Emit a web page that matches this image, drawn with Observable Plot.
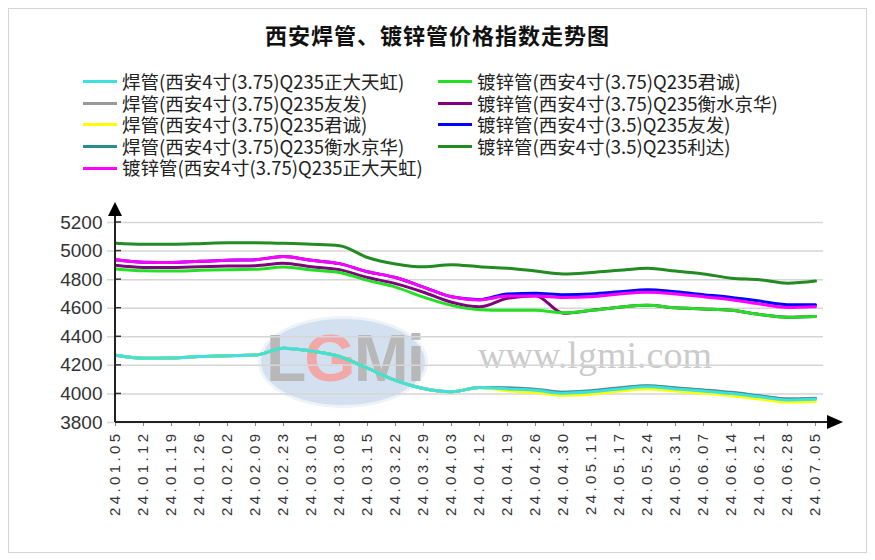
<!DOCTYPE html>
<html><head><meta charset="utf-8">
<script src="https://cdn.jsdelivr.net/npm/d3@7"></script>
<script src="https://cdn.jsdelivr.net/npm/@observablehq/plot@0.6"></script>
<style>
body{margin:0;background:#fff;}
#wrap{position:relative;width:875px;height:560px;overflow:hidden;font-family:"Noto Sans CJK SC",sans-serif;background:#fff;}
#frame{position:absolute;left:8px;top:8px;width:859px;height:545px;border:1px solid #d4d4d4;box-sizing:border-box;}
#title{position:absolute;left:0;width:875px;top:19px;height:30px;text-align:center;font-weight:bold;font-size:22px;line-height:30px;color:#111;letter-spacing:1px;}
.leg{position:absolute;top:71px;font-size:18.5px;color:#222;}
.row{display:flex;align-items:center;height:21.6px;white-space:nowrap;}
.row span{display:inline-block;height:21.6px;line-height:21.6px;overflow:visible;}
.sw{width:34px;height:3px;margin-right:5px;flex:none;}
#wm{position:absolute;left:0;top:0;width:875px;height:560px;}
#ell{position:absolute;left:258px;top:316px;width:170px;height:92px;border-radius:50%;background:#d3e0f0;border:3px solid #eef3fa;box-sizing:border-box;}
#lg{position:absolute;left:266px;top:318px;font-family:"Liberation Sans",Arial,sans-serif;font-weight:bold;font-size:66px;line-height:80px;color:#b8b8b8;letter-spacing:-2px;}
#url{position:absolute;left:478px;top:330px;font-family:"Liberation Serif","DejaVu Serif",serif;font-size:38px;line-height:50px;color:#cbcbcb;}
#chart{position:absolute;left:0;top:190px;}
#chart g[aria-label="x-axis tick label"] text{letter-spacing:3.4px;}
</style></head>
<body>
<div id="wrap">
  <div id="frame"></div>
  <div id="wm"><div id="ell"></div><div id="lg">L<span style="color:#f2a8a8">G</span>Mi</div><div id="url">www.lgmi.com</div></div>
  <div id="chart"></div>
  <div id="title"></div>
  <div class="leg" id="leg1" style="left:83px"></div>
  <div class="leg" id="leg2" style="left:438px"></div>
</div>
<script>
const titleText = "西安焊管、镀锌管价格指数走势图";
const dates = ["24.01.05","24.01.12","24.01.19","24.01.26","24.02.02","24.02.09","24.02.23","24.03.01","24.03.08","24.03.15","24.03.22","24.03.29","24.04.03","24.04.12","24.04.19","24.04.26","24.04.30","24.05.11","24.05.17","24.05.24","24.05.31","24.06.07","24.06.14","24.06.21","24.06.28","24.07.05"];
const yTicks = [3800,4000,4200,4400,4600,4800,5000,5200];

const seriesNames = [
  "焊管(西安4寸(3.75)Q235正大天虹)",
  "焊管(西安4寸(3.75)Q235友发)",
  "焊管(西安4寸(3.75)Q235君诚)",
  "焊管(西安4寸(3.75)Q235衡水京华)",
  "镀锌管(西安4寸(3.75)Q235正大天虹)",
  "镀锌管(西安4寸(3.75)Q235君诚)",
  "镀锌管(西安4寸(3.75)Q235衡水京华)",
  "镀锌管(西安4寸(3.5)Q235友发)",
  "镀锌管(西安4寸(3.5)Q235利达)"
];
const seriesColors = ["#3ee0e0","#999999","#ffff00","#2a8c8c","#ff00ff","#22e022","#800080","#0000ff","#228b22"];

const hgZDTH = [4270,4250,4252,4262,4268,4272,4320,4300,4262,4180,4095,4038,4015,4045,4035,4025,4005,4015,4035,4050,4035,4020,4003,3980,3958,3962];
const hgYF   = [4270,4250,4252,4262,4268,4272,4320,4300,4262,4180,4095,4038,4015,4045,4043,4033,4013,4023,4043,4058,4043,4028,4011,3988,3966,3970];
const hgJC   = [4270,4250,4252,4262,4268,4272,4320,4300,4262,4180,4095,4038,4015,4045,4022,4010,3990,4000,4020,4034,4020,4005,3988,3965,3943,3947];
const hgHSJH = [4270,4250,4252,4262,4268,4272,4320,4300,4262,4180,4095,4038,4015,4045,4040,4030,4010,4020,4040,4055,4040,4025,4008,3985,3963,3967];
const dxZDTH = [4940,4922,4920,4928,4935,4940,4962,4935,4912,4855,4815,4748,4680,4658,4685,4685,4675,4680,4700,4712,4700,4680,4660,4630,4605,4610];
const dxJC   = [4875,4862,4860,4865,4870,4872,4888,4868,4850,4795,4748,4678,4620,4590,4585,4585,4568,4585,4607,4620,4603,4595,4585,4556,4537,4542];
const dxHSJH = [4900,4885,4885,4890,4895,4898,4915,4890,4870,4815,4772,4712,4642,4610,4670,4688,4565,4585,4607,4620,4603,4595,4585,4556,4537,4542];
const dxYF   = [4940,4922,4920,4928,4935,4940,4962,4935,4912,4855,4815,4748,4680,4660,4700,4705,4695,4700,4715,4730,4715,4695,4675,4650,4625,4625];
const dxLD   = [5055,5048,5048,5052,5058,5058,5054,5048,5038,4955,4910,4890,4905,4890,4880,4860,4840,4850,4865,4880,4860,4840,4810,4800,4775,4790];

const seriesValues = [hgZDTH,hgYF,hgJC,hgHSJH,dxZDTH,dxJC,dxHSJH,dxYF,dxLD];
const drawOrder = [6,5,8,7,4,1,3,2,0];

document.getElementById("title").textContent = titleText;
function legendRow(i){
  const r = document.createElement("div"); r.className = "row";
  const s = document.createElement("div"); s.className = "sw"; s.style.background = seriesColors[i];
  const t = document.createElement("span"); t.textContent = seriesNames[i];
  r.appendChild(s); r.appendChild(t); return r;
}
[0,1,2,3,4].forEach(i => document.getElementById("leg1").appendChild(legendRow(i)));
[5,6,7,8].forEach(i => document.getElementById("leg2").appendChild(legendRow(i)));

const lineMarks = drawOrder.map(i => Plot.line(
  dates.map((d, j) => ({date: d, value: seriesValues[i][j]})),
  {x: "date", y: "value", stroke: seriesColors[i], strokeWidth: 3, curve: "monotone-x"}
));

const chart = Plot.plot({
  width: 875, height: 350,
  marginLeft: 107, marginRight: 52, marginTop: 32, marginBottom: 118,
  style: {background: "transparent", fontFamily: "'Liberation Sans', Arial, sans-serif", overflow: "visible"},
  x: {type: "point", domain: dates, padding: 0, label: null},
  y: {domain: [3800, 5200], label: null},
  marks: [
    Plot.gridY(yTicks, {stroke: "#d6d6d6", strokeOpacity: 1, strokeWidth: 1.5}),
    ...lineMarks,
    Plot.axisY(yTicks, {tickSize: 0, tickPadding: 5, fontSize: 19, fill: "#333", tickFormat: d => String(d)}),
    Plot.axisX({tickRotate: -90, tickSize: 4, tickPadding: 4, fontSize: 15, fill: "#333", stroke: "#888"})
  ]
});
document.getElementById("chart").appendChild(chart);

// axis lines, arrows and inner y ticks, positioned through the plot's scales
const sx = chart.scale("x"), sy = chart.scale("y");
const x0 = sx.apply(dates[0]), x1 = sx.apply(dates[dates.length - 1]);
const yb = sy.apply(yTicks[0]), yt = sy.apply(yTicks[yTicks.length - 1]);
const svg = d3.select(chart);
const g = svg.append("g");
g.selectAll("line.yt").data(yTicks).join("line")
  .attr("x1", x0).attr("x2", x0 + 6).attr("y1", d => sy.apply(d)).attr("y2", d => sy.apply(d))
  .attr("stroke", "#333").attr("stroke-width", 1.5);
g.append("line").attr("x1", x0).attr("x2", x0).attr("y1", yb).attr("y2", yt - 8).attr("stroke", "#222").attr("stroke-width", 2);
g.append("line").attr("x1", x0).attr("x2", x1 + 14).attr("y1", yb).attr("y2", yb).attr("stroke", "#222").attr("stroke-width", 2);
g.append("path").attr("d", `M${x0},${yt - 20}L${x0 - 7},${yt - 6}L${x0 + 7},${yt - 6}Z`).attr("fill", "#000");
g.append("path").attr("d", `M${x1 + 28},${yb}L${x1 + 12},${yb - 7}L${x1 + 12},${yb + 7}Z`).attr("fill", "#000");
</script>
</body></html>
